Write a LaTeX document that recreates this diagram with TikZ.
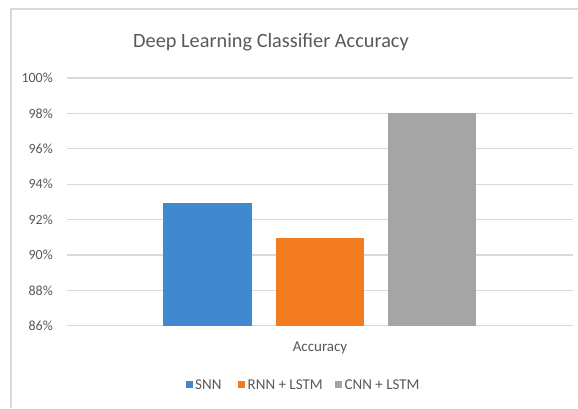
\documentclass[tikz,border=0pt]{standalone}
\usepackage{fontspec}
\setmainfont{Carlito}
\definecolor{txt}{HTML}{595959}
\definecolor{grid}{HTML}{D9D9D9}
\definecolor{snn}{HTML}{4089CF}
\definecolor{rnn}{HTML}{F47C20}
\definecolor{cnn}{HTML}{A5A5A5}
\tikzset{
  ylab/.style={anchor=east, text=txt, font=\fontsize{14}{14}\selectfont, inner sep=0pt},
  gridline/.style={draw=grid, line width=1.2pt},
  legtxt/.style={anchor=west, text=txt, font=\fontsize{15}{15}\selectfont, inner sep=0pt},
  legbox/.style={minimum size=7.5pt, inner sep=0pt, draw=none}
}
\begin{document}
\begin{tikzpicture}[x=1pt,y=-1pt]
\useasboundingbox (0,0) rectangle (578,408);
\fill[white] (0,0) rectangle (578,408);
% chart border
\draw[grid, line width=1.5pt] (11,408) -- (11,9) -- (578,9);
% title
\node[text=txt, font=\fontsize{20.3}{20.3}\selectfont] (title) at (271,42) {Deep Learning Classifier Accuracy};
% gridlines and labels
\foreach \v [count=\i from 0] in {100,98,96,94,92,90,88,86} {
  \pgfmathsetmacro{\yy}{78+\i*35.4}
  \draw[gridline] (67,\yy) -- (573,\yy);
  \node[ylab] (l\v) at (53,\yy) {\v\%};
}
% bars
\fill[snn] (163,202.6) rectangle (251.5,325.8);
\fill[rnn] (276,238) rectangle (363.5,325.8);
\fill[cnn] (388,113.4) rectangle (475.5,325.8);
\node[text=txt, font=\fontsize{15}{15}\selectfont] (xlab) at (320,348) {Accuracy};
% legend
\node[legbox, fill=snn] (k1) at (189.5,384.5) {};
\node[legtxt] (t1) at (195,384.5) {SNN};
\node[legbox, fill=rnn] (k2) at (241.5,384.5) {};
\node[legtxt] (t2) at (247.5,384.5) {RNN + LSTM};
\node[legbox, fill=cnn] (k3) at (338.5,384.5) {};
\node[legtxt] (t3) at (344.5,384.5) {CNN + LSTM};
\end{tikzpicture}
\end{document}
